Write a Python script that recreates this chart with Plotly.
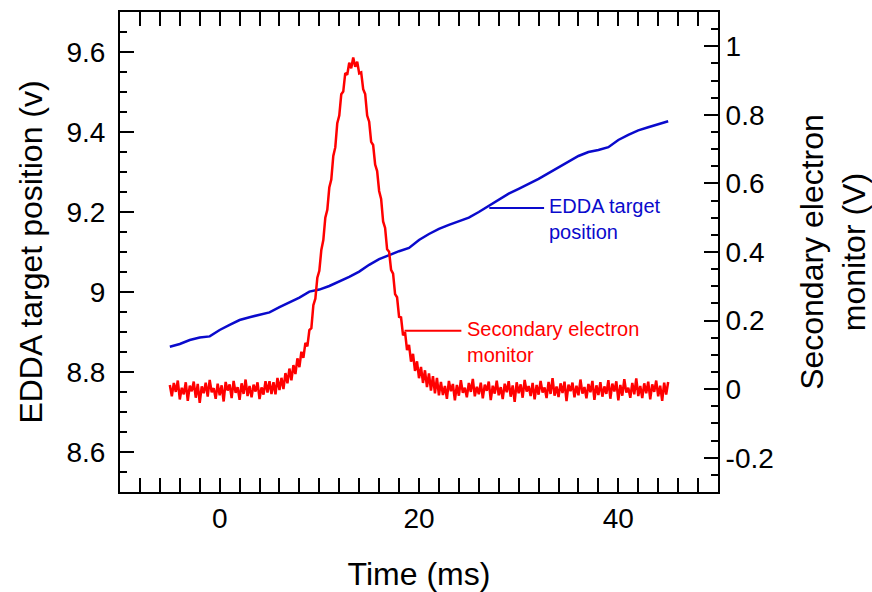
import plotly.graph_objects as go

# ---------------- data ----------------
# EDDA target position (left axis, volts), sampled every 1 ms from -5 to 45 ms
blue_t = list(range(-5, 46))
blue_v = [8.863, 8.870, 8.880, 8.886, 8.889, 8.905, 8.918, 8.930, 8.937, 8.943,
          8.949, 8.962, 8.973, 8.986, 9.001, 9.006, 9.015, 9.026, 9.038, 9.051,
          9.068, 9.082, 9.093, 9.102, 9.110, 9.130, 9.145, 9.158, 9.168, 9.178,
          9.186, 9.200, 9.215, 9.232, 9.246, 9.258, 9.270, 9.283, 9.297, 9.312,
          9.327, 9.340, 9.350, 9.355, 9.362, 9.380, 9.393, 9.404, 9.412, 9.420,
          9.427]

# Secondary electron monitor (right axis, volts), sampled every 0.2 ms from -5 to 45 ms
red_t0 = -5.0
red_dt = 0.2
red_v = [
    # -5.0 .. 4.8 ms
    0.012, -0.021, 0.018, -0.008, 0.025, -0.030, 0.004, -0.015, 0.020, -0.034,
    0.010, -0.006, 0.022, -0.025, 0.015, -0.040, 0.008, -0.012, 0.019, -0.022,
    0.027, -0.009, 0.003, -0.028, 0.016, -0.018, 0.011, -0.036, 0.021, -0.004,
    0.014, -0.026, 0.024, -0.011, 0.006, -0.031, 0.017, -0.014, 0.028, -0.020,
    0.009, -0.024, 0.013, -0.007, 0.020, -0.029, 0.005, -0.016, 0.023, -0.010,
    # 5.0 .. 22.0 ms (pulse)
    0.023, -0.014, 0.020, -0.015, 0.033, -0.003, 0.033, 0.000, 0.047, 0.017,
    0.060, 0.026, 0.070, 0.044, 0.090, 0.064, 0.109, 0.091, 0.135, 0.125,
    0.172, 0.178, 0.245, 0.264, 0.325, 0.345, 0.406, 0.435, 0.500, 0.523,
    0.588, 0.611, 0.680, 0.705, 0.776, 0.798, 0.860, 0.868, 0.922, 0.917,
    0.952, 0.936, 0.967, 0.940, 0.955, 0.921, 0.924, 0.875, 0.861, 0.798,
    0.780, 0.721, 0.712, 0.655, 0.636, 0.578, 0.555, 0.489, 0.470, 0.408,
    0.401, 0.348, 0.337, 0.277, 0.268, 0.211, 0.209, 0.157, 0.166, 0.114,
    0.129, 0.080, 0.103, 0.053, 0.081, 0.032, 0.065, 0.018, 0.055, 0.006,
    0.046, -0.004, 0.038, -0.012, 0.033, -0.018,
    # 22.2 .. 45.0 ms
    0.021, -0.017, 0.009, -0.028, 0.024, -0.006, 0.015, -0.033, 0.012, -0.019,
    0.026, -0.011, 0.004, -0.024, 0.018, -0.008, 0.030, -0.021, 0.007, -0.015,
    0.019, -0.027, 0.013, -0.005, 0.022, -0.032, 0.010, -0.013, 0.025, -0.018,
    0.006, -0.029, 0.016, -0.009, 0.023, -0.022, 0.011, -0.037, 0.020, -0.012,
    0.014, -0.025, 0.027, -0.007, 0.009, -0.020, 0.018, -0.030, 0.012, -0.016,
    0.024, -0.010, 0.005, -0.026, 0.021, -0.014, 0.032, -0.019, 0.008, -0.023,
    0.017, -0.011, 0.022, -0.035, 0.013, -0.006, 0.019, -0.024, 0.010, -0.018,
    0.028, -0.013, 0.006, -0.027, 0.015, -0.009, 0.024, -0.031, 0.011, -0.017,
    0.020, -0.022, 0.008, -0.014, 0.026, -0.028, 0.016, -0.007, 0.023, -0.033,
    0.012, -0.019, 0.029, -0.010, 0.004, -0.025, 0.018, -0.015, 0.031, -0.020,
    0.009, -0.026, 0.017, -0.012, 0.022, -0.030, 0.014, -0.008, 0.025, -0.021,
    0.010, -0.034, 0.019, -0.016, 0.021,
]
red_t = [round(red_t0 + i * red_dt, 1) for i in range(len(red_v))]

x_tickvals = [-10, 0, 10, 20, 30, 40, 50]
x_ticktext = ["", "0", "", "20", "", "40", ""]
y_tickvals = [8.6, 8.8, 9.0, 9.2, 9.4, 9.6]
y_ticktext = ["8.6", "8.8", "9", "9.2", "9.4", "9.6"]
y2_tickvals = [-0.2, 0.0, 0.2, 0.4, 0.6, 0.8, 1.0]
y2_ticktext = ["-0.2", "0", "0.2", "0.4", "0.6", "0.8", "1"]

# annotation anchor points (data units)
blue_label = {"x0": 27.05, "x1": 32.55, "y": 9.21, "text": "EDDA target<br>position"}
red_label = {"x0": 18.55, "x1": 24.25, "y": 0.17, "text": "Secondary electron<br>monitor"}

BLUE = "#0a0acc"
RED = "#ff0000"
FONT = "Arial, Liberation Sans, sans-serif"

fig = go.Figure()
fig.add_trace(go.Scatter(x=blue_t, y=blue_v, mode="lines",
                         line=dict(color=BLUE, width=2.5), yaxis="y",
                         name="EDDA target position", showlegend=False))
fig.add_trace(go.Scatter(x=red_t, y=red_v, mode="lines",
                         line=dict(color=RED, width=2.5), yaxis="y2",
                         name="Secondary electron monitor", showlegend=False))

# label leader lines
fig.add_shape(type="line", xref="x", yref="y",
              x0=blue_label["x0"], x1=blue_label["x1"],
              y0=blue_label["y"], y1=blue_label["y"],
              line=dict(color=BLUE, width=2))
fig.add_shape(type="line", xref="x", yref="y2",
              x0=red_label["x0"], x1=red_label["x1"],
              y0=red_label["y"], y1=red_label["y"],
              line=dict(color=RED, width=2))
fig.add_annotation(x=blue_label["x1"], y=blue_label["y"], xref="x", yref="y",
                   text=blue_label["text"], showarrow=False, xanchor="left",
                   yanchor="middle", align="left", xshift=3, yshift=-11,
                   font=dict(family=FONT, size=20, color=BLUE))
fig.add_annotation(x=red_label["x1"], y=red_label["y"], xref="x", yref="y2",
                   text=red_label["text"], showarrow=False, xanchor="left",
                   yanchor="middle", align="left", xshift=4, yshift=-11,
                   font=dict(family=FONT, size=20, color=RED))

axis_common = dict(showline=True, linecolor="black", linewidth=2,
                   ticks="inside", tickcolor="black", tickwidth=2, ticklen=14,
                   showgrid=False, zeroline=False, automargin=False,
                   tickfont=dict(family=FONT, size=28, color="black"))

fig.update_layout(
    width=872, height=592,
    margin=dict(l=120, r=154, t=12, b=100),
    paper_bgcolor="white", plot_bgcolor="white",
    font=dict(family=FONT, color="black"),
    xaxis=dict(range=[-10, 50], tickmode="array", tickvals=x_tickvals,
               ticktext=x_ticktext, mirror="allticks",
               minor=dict(dtick=2, tick0=0, ticks="inside", ticklen=7,
                          tickwidth=2, tickcolor="black"),
               title=dict(text="Time (ms)", font=dict(family=FONT, size=32),
                          standoff=30),
               **axis_common),
    yaxis=dict(range=[8.5, 9.7], tickmode="array", tickvals=y_tickvals,
               ticktext=y_ticktext, ticklabelstandoff=7,
               minor=dict(dtick=0.05, tick0=8.5, ticks="inside", ticklen=7,
                          tickwidth=2, tickcolor="black"),
               title=dict(text="EDDA target position (v)",
                          font=dict(family=FONT, size=32), standoff=14),
               **axis_common),
    yaxis2=dict(range=[-0.3, 1.1], overlaying="y", side="right",
                tickmode="array", tickvals=y2_tickvals, ticktext=y2_ticktext,
                minor=dict(dtick=0.05, tick0=0, ticks="inside", ticklen=7,
                           tickwidth=2, tickcolor="black"),
                title=dict(text="Secondary electron<br>monitor (V)",
                           font=dict(family=FONT, size=32), standoff=32),
                **axis_common),
)

fig.write_html("out.html")
